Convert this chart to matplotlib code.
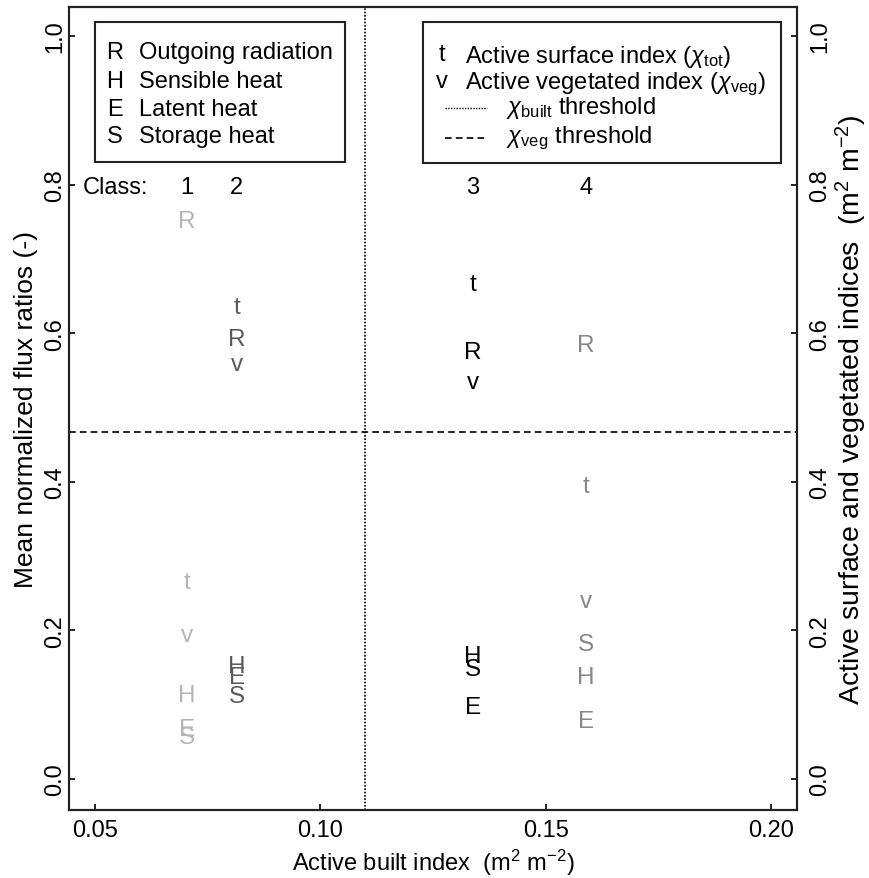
import matplotlib
matplotlib.use("Agg")
import matplotlib.pyplot as plt
from matplotlib.patches import Rectangle
from matplotlib.lines import Line2D

plt.rcParams['font.family'] = ['Liberation Sans', 'DejaVu Sans']
plt.rcParams['mathtext.fontset'] = 'custom'
plt.rcParams['mathtext.rm'] = 'Liberation Sans'
plt.rcParams['mathtext.it'] = 'Liberation Sans:italic'
plt.rcParams['mathtext.bf'] = 'Liberation Sans:bold'

# ---- data ----
class_labels = ["1", "2", "3", "4"]
class_x = [0.0704, 0.0815, 0.1339, 0.159]      # active built index
R_vals = [0.751, 0.592, 0.575, 0.584]          # outgoing radiation
H_vals = [0.113, 0.152, 0.166, 0.137]          # sensible heat
E_vals = [0.067, 0.137, 0.097, 0.078]          # latent heat
S_vals = [0.056, 0.112, 0.148, 0.182]          # storage heat
t_vals = [0.265, 0.635, 0.666, 0.394]          # active surface index
v_vals = [0.194, 0.559, 0.534, 0.240]          # active vegetated index
built_threshold = 0.110
veg_threshold = 0.467
class_colors = ["#b5b5b5", "#5a5a5a", "#000000", "#878787"]
xticks = [0.05, 0.10, 0.15, 0.20]
xtick_labels = ["0.05", "0.10", "0.15", "0.20"]
yticks = [0.0, 0.2, 0.4, 0.6, 0.8, 1.0]
ytick_labels = ["0.0", "0.2", "0.4", "0.6", "0.8", "1.0"]

W, H = 870, 879
fig = plt.figure(figsize=(W / 100, H / 100), dpi=100)

def fx(x):
    return x / W

def fy(y):
    return 1 - y / H

ax = fig.add_axes([fx(69.3), fy(810.7), fx(797) - fx(69.3), fy(8) - fy(810.7)])
ax.set_xlim(0.0443, 0.2058)
ax.set_ylim(-0.0413, 1.039)

fs = 17
ax.set_xticks(xticks)
ax.set_xticklabels(xtick_labels, fontsize=fs)
ax.set_yticks(yticks)
ax.set_yticklabels(ytick_labels, fontsize=fs, rotation=90, va='center')
ax.tick_params(direction='in', length=4, width=1.2)
ax.tick_params(axis='y', pad=2)
ax.tick_params(axis='x', pad=7)
for sp in ax.spines.values():
    sp.set_linewidth(1.5)
    sp.set_color('#222222')

ax2 = ax.twinx()
ax2.set_ylim(ax.get_ylim())
ax2.set_yticks(yticks)
ax2.set_yticklabels(ytick_labels, fontsize=fs, rotation=90, va='center')
ax2.tick_params(direction='in', length=4, width=1.2, pad=9)
for sp in ax2.spines.values():
    sp.set_linewidth(1.5)
    sp.set_color('#222222')

ax.set_xlabel(r"Active built index  (m$^2$ m$^{-2}$)", fontsize=fs, labelpad=4)
ax.set_ylabel("Mean normalized flux ratios (-)", fontsize=19, labelpad=5)
ax2.set_ylabel(r"Active surface and vegetated indices  (m$^2$ m$^{-2}$)",
               fontsize=20.5, rotation=90, labelpad=2)

# thresholds
ax.axvline(built_threshold, color='black', lw=1.2, ls=(0, (1, 1)))
ax.axhline(veg_threshold, color='black', lw=1.2, ls=(0, (4, 2.5)))

# class labels
ax.text(0.0546, 0.797, "Class:", fontsize=fs, ha='center', va='center')
for i in range(4):
    ax.text(class_x[i], 0.797, class_labels[i], fontsize=fs, ha='center', va='center')

# letters
pfs = 17.5
series = [("R", R_vals), ("H", H_vals), ("E", E_vals), ("S", S_vals),
          ("t", t_vals), ("v", v_vals)]
for letter, vals in series:
    for i in range(4):
        ax.text(class_x[i], vals[i], letter, fontsize=pfs, ha='center',
                va='center', color=class_colors[i])

# legend box 1
tf = fig.transFigure
fig.patches.append(Rectangle((fx(95), fy(163)), fx(345) - fx(95), fy(23) - fy(163),
                             transform=tf, fill=False, lw=1.5, ec='#222222'))
leg1 = [("R", "Outgoing radiation", 53), ("H", "Sensible heat", 82),
        ("E", "Latent heat", 110), ("S", "Storage heat", 137)]
for let, txt, yy in leg1:
    fig.text(fx(115), fy(yy), let, fontsize=fs, ha='center', va='center')
    fig.text(fx(139), fy(yy), txt, fontsize=fs, ha='left', va='center')

# legend box 2
fig.patches.append(Rectangle((fx(423), fy(164)), fx(781) - fx(423), fy(23) - fy(164),
                             transform=tf, fill=False, lw=1.5, ec='#222222'))
fig.text(fx(442), fy(55), "t", fontsize=fs, ha='center', va='center')
fig.text(fx(465), fy(57), r"Active surface index ($\chi_{\rm tot}$)", fontsize=fs,
         ha='left', va='center')
fig.text(fx(442), fy(82), "v", fontsize=fs, ha='center', va='center')
fig.text(fx(465), fy(84), r"Active vegetated index ($\chi_{\rm veg}$)", fontsize=fs,
         ha='left', va='center')
fig.lines.append(Line2D([fx(445), fx(487)], [fy(109), fy(109)], transform=tf,
                        color='black', lw=1.0, ls=(0, (1, 1))))
fig.text(fx(506), fy(108), r"$\chi_{\rm built}$ threshold", fontsize=fs,
         ha='left', va='center')
fig.lines.append(Line2D([fx(445), fx(487)], [fy(139), fy(139)], transform=tf,
                        color='black', lw=1.2, ls=(0, (4, 2.5))))
fig.text(fx(506), fy(138), r"$\chi_{\rm veg}$ threshold", fontsize=fs,
         ha='left', va='center')

fig.savefig("out.png", dpi=100)
